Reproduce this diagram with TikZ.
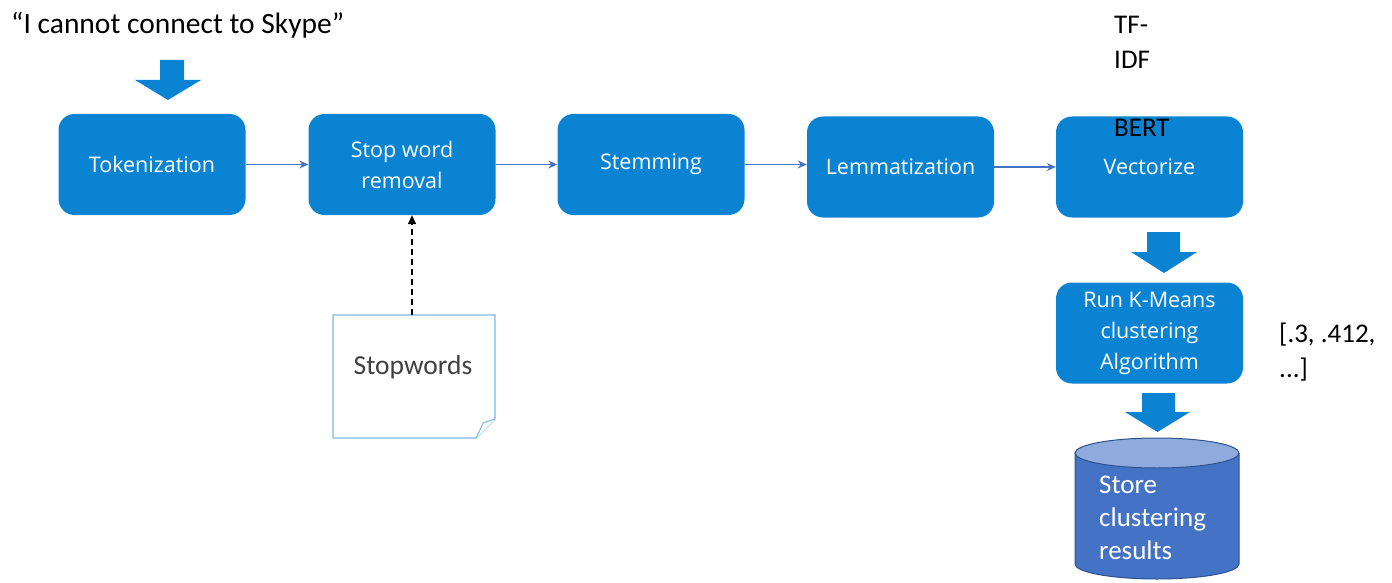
\documentclass[tikz,border=0pt]{standalone}
\usepackage{fontspec}
\setmainfont{Carlito}
\newfontfamily\boxfont{Open Sans}
\usetikzlibrary{arrows.meta,calc}
\definecolor{procblue}{HTML}{0B83D3}
\definecolor{linkblue}{HTML}{4472C4}
\definecolor{dbblue}{HTML}{4472C4}
\definecolor{dbtop}{HTML}{8FAADC}
\definecolor{dbedge}{HTML}{2F528F}
\definecolor{noteedge}{HTML}{7FB8E6}
\definecolor{notetext}{HTML}{404040}
\tikzset{
  stepbox/.style={fill=procblue, draw=none, rounded corners=16pt,
    minimum width=187pt, minimum height=101pt, align=center,
    text=white, font=\boxfont\fontsize{21.5}{31}\selectfont, inner sep=0pt},
  link/.style={draw=linkblue, line width=1.3pt, -{Stealth[length=9pt,width=8pt]}},
  plain/.style={font=\fontsize{27}{35}\selectfont, text=black, inner sep=0pt, align=left},
  bigarrow/.style={fill=procblue, draw=none},
}
\begin{document}
\begin{tikzpicture}[x=1pt,y=-1pt]
\useasboundingbox (0,0) rectangle (1392,583);

% input sentence
\node[plain, anchor=west, font=\fontsize{29.5}{35}\selectfont] (quote) at (11,25)
  {“I cannot connect to Skype”};

% processing steps
\node[stepbox] (tok)  at (152,164.5)   {Tokenization};
\node[stepbox] (stop) at (402,164.5)   {Stop word\\removal};
\node[stepbox] (stem) at (651,164.5)   {Stemming};
\node[stepbox] (lem)  at (900.5,167)   {Lemmatization};
\node[stepbox] (vec)  at (1149.5,167)  {Vectorize};
\node[stepbox] (km)   at (1149.5,333)  {Run K-Means\\clustering\\Algorithm};

% connectors between steps
\draw[link] (tok.east) -- (stop.west);
\draw[link] (stop.east) -- (stem.west);
\draw[link] (stem.east) -- (stem.east -| lem.west);
\draw[link] (lem.east) -- (vec.west);

% vectorizer options
\node[plain, anchor=west] (tfidf) at (1114,42) {TF-\\IDF};
\node[plain, anchor=west] (bert)  at (1114,128) {BERT};
\node[plain, anchor=west] (vecout) at (1279,352) {[.3, .412,\\...]};

% block arrows
\fill[bigarrow] (160,60) -- (184,60) -- (184,80) -- (201,80) -- (168,100)
  -- (135,80) -- (160,80) -- cycle;
\fill[bigarrow] (1147,232) -- (1180,232) -- (1180,252) -- (1197,252) -- (1164,273)
  -- (1131,252) -- (1147,252) -- cycle;
\fill[bigarrow] (1142,393) -- (1175,393) -- (1175,412) -- (1190,412) -- (1157.5,432)
  -- (1125,412) -- (1142,412) -- cycle;

% stop word list (note with folded corner)
\draw[noteedge, line width=1.2pt, fill=white]
  (333,315) -- (495,315) -- (495,419) -- (476,438) -- (333,438) -- cycle;
\draw[noteedge, line width=1pt, fill=white]
  (495,419) -- (483,423) .. controls (481,428) .. (476,438);
\node[font=\fontsize{27.5}{30}\selectfont, text=notetext] (sw) at (413,367) {Stopwords};
\coordinate (swtop) at (412,315);
\draw[black, line width=1.4pt, dash pattern=on 6pt off 4pt,
  -{Triangle[length=9pt,width=8pt]}] (swtop) -- (swtop |- stop.south);

% result store (cylinder)
\fill[dbblue] (1075,453) -- (1075,564) arc[start angle=180, end angle=0,
  x radius=82, y radius=15] -- (1239,453) -- cycle;
\draw[dbedge, line width=1pt] (1075,453) -- (1075,564) arc[start angle=180,
  end angle=0, x radius=82, y radius=15] -- (1239,453);
\draw[dbedge, line width=1pt, fill=dbtop] (1157,453) ellipse[x radius=82, y radius=15];
\node[plain, text=white, anchor=north west, font=\fontsize{27}{33}\selectfont] (store)
  at (1099,476) {Store\\clustering\\results};
\end{tikzpicture}
\end{document}
